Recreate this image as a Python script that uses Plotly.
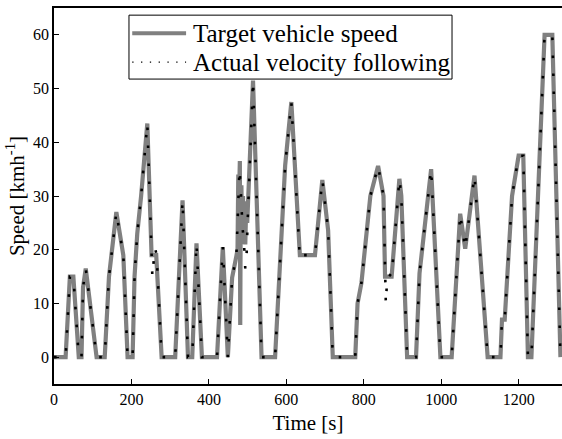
import plotly.graph_objects as go

# Target vehicle speed (time [s], speed [km/h])
target_time = [0, 30, 41, 50, 64, 71, 75, 82, 110, 131, 142, 161, 179, 190, 203,
               208, 215, 225, 241, 252, 264, 278, 313, 332, 346, 357, 368, 382,
               421, 436, 449, 460, 471, 474, 476, 478, 480, 481, 482, 484, 486,
               488, 490, 492, 494, 496, 499, 514, 536, 571, 597, 613, 635, 674,
               693, 708, 720, 778, 784, 794, 817, 837, 851, 855, 872, 892, 897,
               912, 935, 944, 974, 998, 1027, 1049, 1062, 1086, 1120, 1153, 1157,
               1164, 1183, 1200, 1212, 1224, 1233, 1267, 1287, 1308]
target_speed = [0, 0, 15, 15, 0, 0, 13, 16.5, 0, 0, 15, 27, 19, 0, 0,
                15, 23, 30, 43.5, 19, 19, 0, 0, 29.2, 0, 0, 21.2, 0,
                0, 20.5, 0, 14.8, 18.8, 20, 34, 30, 36.5, 6, 24, 32, 21,
                30, 22, 29, 21, 27, 25, 51.5, 0, 0, 35.7, 47.5, 19, 19,
                33, 23.6, 0, 0, 10, 13.8, 30, 35.6, 30, 15, 15, 33.2, 30,
                0, 0, 15.6, 35, 0, 0, 26.7, 20.2, 33.8, 0, 0, 7,
                7, 30, 37.5, 37.5, 0, 0, 60, 60, 0]

# Actual velocity following (time [s], speed [km/h])
actual_time = [0, 30, 41, 50, 64, 71, 75, 82, 110, 131, 142, 161, 179, 190, 203,
               208, 215, 225, 241, 250, 254, 257, 261, 265, 278, 313, 332, 346,
               357, 368, 382, 421, 436, 449, 460, 471, 476, 479, 481, 484, 487,
               490, 494, 497, 500, 514, 536, 571, 597, 613, 635, 642, 674, 693,
               708, 720, 778, 784, 794, 817, 837, 851, 855, 857, 860, 864, 872,
               892, 897, 912, 935, 944, 974, 998, 1027, 1049, 1062, 1086, 1120,
               1153, 1157, 1164, 1183, 1200, 1212, 1224, 1233, 1267, 1287, 1308]
actual_speed = [0, 0, 15, 15, 0, 0, 13, 16.5, 0, 0, 15, 27, 19, 0, 0,
                15, 23, 30, 43.5, 23, 15, 17.5, 20.3, 19, 0, 0, 29.2, 0,
                0, 21.2, 0, 0, 20.5, 0, 14.8, 18.8, 28, 35, 33, 27, 24,
                22, 16.5, 18, 25, 51.5, 0, 0, 35.7, 47.5, 18.3, 19, 19, 33,
                23.6, 0, 0, 10, 13.8, 30, 35.6, 30, 14, 10, 14, 15.5, 15,
                33.2, 30, 0, 0, 15.6, 35, 0, 0, 26.7, 20.2, 33.8, 0,
                0, 7, 7, 30, 37.5, 37.5, 0, 0, 60, 60, 0]

x_ticks = [0, 200, 400, 600, 800, 1000, 1200]
y_ticks = [0, 10, 20, 30, 40, 50, 60]
series_names = ["Target vehicle speed", "Actual velocity following"]

FONT = "Liberation Serif, Times New Roman, serif"
GRAY = "rgb(128,128,128)"

fig = go.Figure()
fig.add_trace(go.Scatter(
    x=target_time, y=target_speed, mode="lines", name=series_names[0],
    line=dict(color=GRAY, width=4.2), showlegend=False,
))
fig.add_trace(go.Scatter(
    x=actual_time, y=actual_speed, mode="lines", name=series_names[1],
    line=dict(color="black", width=2.6, dash="2.6px,15.4px"), showlegend=False,
))

# Legend box drawn in the plot-area (paper) frame
box = dict(x0=0.1476, x1=0.7835, y0=0.811, y1=0.981)
row_y = [0.933, 0.856]
fig.add_shape(type="rect", xref="paper", yref="paper", **box,
              line=dict(color="black", width=1), fillcolor="white", layer="above")
fig.add_shape(type="line", xref="paper", yref="paper", x0=0.154, x1=0.260,
              y0=row_y[0], y1=row_y[0], line=dict(color=GRAY, width=4), layer="above")
fig.add_shape(type="line", xref="paper", yref="paper", x0=0.154, x1=0.260,
              y0=row_y[1], y1=row_y[1], line=dict(color="black", width=1.3, dash="1.3px,7.5px"),
              layer="above")
for name, ry in zip(series_names, row_y):
    fig.add_annotation(xref="paper", yref="paper", x=0.270, y=ry, text=name,
                       showarrow=False, xanchor="left", yanchor="middle",
                       font=dict(family=FONT, size=25, color="black"))

fig.update_layout(
    width=562, height=439,
    margin=dict(l=54, r=0, t=8, b=55),
    paper_bgcolor="white", plot_bgcolor="white",
    font=dict(family=FONT, size=16, color="black"),
    showlegend=False,
    xaxis=dict(
        range=[0, 1312], tickvals=x_ticks, ticks="inside", ticklen=5,
        tickwidth=1.2, tickcolor="black",
        tickfont=dict(family=FONT, size=16, color="black"),
        showline=True, linecolor="black", linewidth=1.5, mirror=True,
        showgrid=False, zeroline=False,
        title=dict(text="Time [s]", font=dict(family=FONT, size=21, color="black"), standoff=8),
    ),
    yaxis=dict(
        range=[-5, 65], tickvals=y_ticks, ticks="inside", ticklen=5,
        tickwidth=1.2, tickcolor="black",
        tickfont=dict(family=FONT, size=16, color="black"),
        showline=True, linecolor="black", linewidth=1.5,
        showgrid=False, zeroline=False,
        title=dict(text="Speed [kmh<sup>-1</sup>]", font=dict(family=FONT, size=21, color="black"), standoff=3),
    ),
)

fig.write_html("out.html")
